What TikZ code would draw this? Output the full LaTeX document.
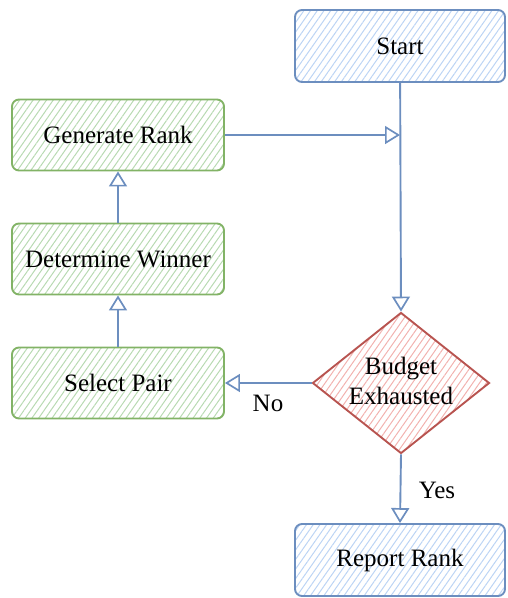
\documentclass[tikz,border=0pt]{standalone}
\usepackage{fontspec}
\setmainfont{Liberation Serif}
\usetikzlibrary{shapes.geometric,arrows.meta,patterns.meta,positioning}
\definecolor{gline}{HTML}{82B366}
\definecolor{gfill}{HTML}{B8DAB2}
\definecolor{bline}{HTML}{6C8EBF}
\definecolor{bfill}{HTML}{BCD4F4}
\definecolor{rline}{HTML}{B85450}
\definecolor{rfill}{HTML}{F2B2AF}
\tikzset{
  txt/.style={font=\rmfamily\fontsize{25}{30}\selectfont},
  base/.style={txt, line width=1.9pt, align=center, inner sep=0pt},
  hatch/.style={pattern={Lines[angle=55,distance=5.5pt,line width=1pt]}},
  greenbox/.style={base, hatch, draw=gline, rounded corners=7pt, minimum width=212pt, minimum height=71pt, pattern color=gfill},
  bluebox/.style={base, hatch, draw=bline, rounded corners=7pt, minimum width=210pt, minimum height=72pt, pattern color=bfill},
  decision/.style={base, hatch, diamond, draw=rline, minimum width=177pt, minimum height=141pt, pattern color=rfill},
  flow/.style={draw=bline, line width=1.9pt, -{Triangle[open, length=15pt, width=18pt, line width=1.7pt]}},
  lbl/.style={txt, inner sep=0pt}
}
\begin{document}
\begin{tikzpicture}[x=1pt,y=-1pt]
\useasboundingbox (0,0) rectangle (507,598);
\node[bluebox] (start) at (400,46) {Start};
\node[greenbox] (gen) at (118,135) {Generate Rank};
\node[greenbox] (det) at (118,259) {Determine Winner};
\node[greenbox] (sel) at (118,383) {Select Pair};
\node[decision] (dec) at (401,383) {};
\node[lbl, align=center] (dect) at (401,381) {Budget\\Exhausted};
\node[bluebox] (rep) at (400,560) {Report Rank};
\coordinate (join) at (start.south |- gen.east);
\draw[flow] (start) -- (dec.north);
\draw[flow] (gen.east) -- (join);
\draw[flow] (sel) -- (det);
\draw[flow] (det) -- (gen);
\draw[flow] (dec.west) -- (sel.east);
\draw[flow] (dec.south) -- (rep.north);
\node[lbl] (no) at (268,403) {No};
\node[lbl] (yes) at (437,490) {Yes};
\end{tikzpicture}
\end{document}
